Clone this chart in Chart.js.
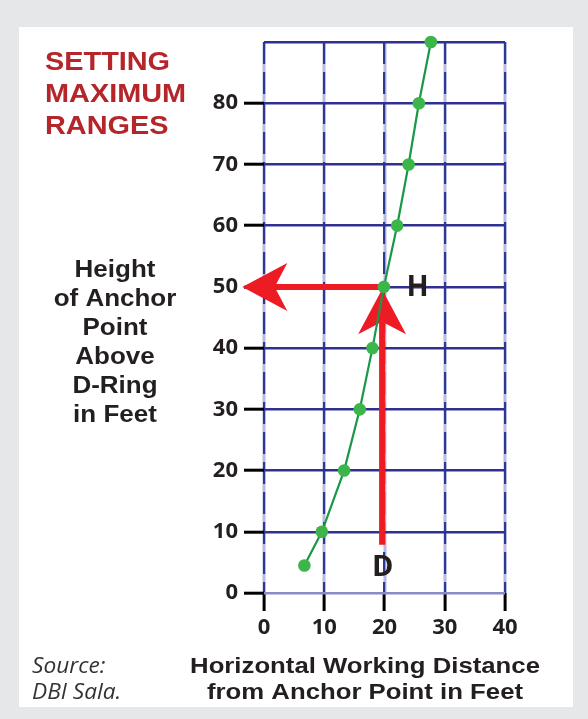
<!DOCTYPE html>
<html lang="en">
<head>
<meta charset="UTF-8">
<title>Setting Maximum Ranges</title>
<script src="https://cdn.jsdelivr.net/npm/chart.js"></script>
<style>
    html, body { margin: 0; padding: 0; background: #e6e7e8; }
    .panel { position: absolute; left: 19px; top: 27px; width: 554px; height: 680px; background: #fff; }
    .chart-container { position: absolute; left: 0; top: 0; width: 588px; height: 719px; }
</style>
</head>
<body>
<div class="panel"></div>
<div class="chart-container"><canvas id="rangeChart" width="588" height="719"></canvas></div>
<script>
    // values
    const distanceFeet = [6.7, 9.6, 13.3, 15.9, 18.0, 19.9, 22.1, 24.0, 25.7, 27.7];
    const heightFeet = [4.5, 10, 20, 30, 40, 50, 60, 70, 80, 90];
    const xTicks = [0, 10, 20, 30, 40];
    const yTicks = [0, 10, 20, 30, 40, 50, 60, 70, 80];
    const arrows = [
        {from: [19.5, 50], to: [-3.6, 50]},   // H -> height axis
        {from: [19.6, 7.9], to: [19.6, 49.6]} // D -> H
    ];
    const pointLabels = [
        {text: 'H', x: 25.5, y: 50},
        {text: 'D', x: 19.7, y: 4.3}
    ];
    const titleLines = ['SETTING', 'MAXIMUM', 'RANGES'];
    const yTitleLines = ['Height', 'of Anchor', 'Point', 'Above', 'D-Ring', 'in Feet'];
    const xTitleLines = ['Horizontal Working Distance', 'from Anchor Point in Feet'];
    const sourceLines = ['Source:', 'DBI Sala.'];

    const points = distanceFeet.map((d, i) => ({x: d, y: heightFeet[i]}));
    const DARK = '#231f20';

    function stretchedText(ctx, text, x, y, align, stretch) {
        ctx.save();
        ctx.translate(x, y);
        ctx.scale(stretch, 1);
        ctx.textAlign = align;
        ctx.fillText(text, 0, 0);
        ctx.restore();
    }

    const underlayPlugin = {
        id: 'underlay',
        beforeDraw(chart) {
            const {ctx, chartArea, scales} = chart;
            ctx.save();
            ctx.setLineDash([]);
            ctx.strokeStyle = '#b9badf';
            ctx.lineWidth = 3;
            xTicks.forEach(v => {
                const px = Math.round(scales.x.getPixelForValue(v));
                ctx.beginPath();
                ctx.moveTo(px, chartArea.top);
                ctx.lineTo(px, chartArea.bottom);
                ctx.stroke();
            });
            ctx.restore();
        }
    };

    const arrowPlugin = {
        id: 'arrows',
        beforeDatasetsDraw(chart) {
            const {ctx, scales} = chart;
            ctx.save();
            ctx.setLineDash([]);
            ctx.strokeStyle = '#ed1c24';
            ctx.fillStyle = '#ed1c24';
            ctx.lineWidth = 6;
            arrows.forEach(a => {
                const x1 = scales.x.getPixelForValue(a.from[0]);
                const y1 = scales.y.getPixelForValue(a.from[1]);
                const x2 = scales.x.getPixelForValue(a.to[0]);
                const y2 = scales.y.getPixelForValue(a.to[1]);
                const len = Math.hypot(x2 - x1, y2 - y1);
                const ux = (x2 - x1) / len, uy = (y2 - y1) / len;
                const headLen = 45, halfW = 24, notch = 0.72;
                ctx.beginPath();
                ctx.moveTo(x1, y1);
                ctx.lineTo(x2 - ux * headLen * notch, y2 - uy * headLen * notch);
                ctx.stroke();
                ctx.beginPath();
                ctx.moveTo(x2, y2);
                ctx.lineTo(x2 - ux * headLen - uy * halfW, y2 - uy * headLen + ux * halfW);
                ctx.lineTo(x2 - ux * headLen * notch, y2 - uy * headLen * notch);
                ctx.lineTo(x2 - ux * headLen + uy * halfW, y2 - uy * headLen - ux * halfW);
                ctx.closePath();
                ctx.fill();
            });
            ctx.restore();
        }
    };

    const textPlugin = {
        id: 'texts',
        afterDraw(chart) {
            const {ctx, scales} = chart;
            ctx.save();
            ctx.textBaseline = 'alphabetic';

            ctx.fillStyle = DARK;
            ctx.font = 'bold 29px "Open Sans"';
            pointLabels.forEach(l => {
                ctx.textAlign = 'center';
                ctx.textBaseline = 'middle';
                ctx.fillText(l.text, scales.x.getPixelForValue(l.x), scales.y.getPixelForValue(l.y) + 1);
            });
            ctx.textBaseline = 'alphabetic';

            ctx.fillStyle = '#b5262b';
            ctx.font = 'bold 26px "Liberation Sans"';
            titleLines.forEach((t, i) => stretchedText(ctx, t, 45, 69.5 + i * 32.3, 'left', 1.11));

            ctx.fillStyle = DARK;
            ctx.font = 'bold 23px "Liberation Sans"';
            yTitleLines.forEach((t, i) => stretchedText(ctx, t, 115, 277 + i * 28.9, 'center', 1.13));

            ctx.font = 'bold 22px "Liberation Sans"';
            xTitleLines.forEach((t, i) => stretchedText(ctx, t, 365, 673 + i * 26, 'center', 1.17));

            ctx.fillStyle = '#333';
            ctx.font = 'italic 21px "Open Sans"';
            sourceLines.forEach((t, i) => stretchedText(ctx, t, 32, 673 + i * 26, 'left', 1.08));
            ctx.restore();
        }
    };

    const tickFont = {family: '"Open Sans"', size: 22, weight: 'bold'};

    new Chart(document.getElementById('rangeChart'), {
        type: 'scatter',
        data: {
            datasets: [{
                data: points,
                showLine: true,
                borderColor: '#1a9748',
                borderWidth: 2.2,
                pointRadius: 6.3,
                pointBackgroundColor: '#3cb54a',
                pointBorderWidth: 0,
                clip: false
            }, {
                data: points,
                showLine: false,
                pointRadius: 1.3,
                pointBackgroundColor: '#ed1c24',
                pointBorderWidth: 0,
                clip: false
            }]
        },
        options: {
            responsive: false,
            animation: false,
            devicePixelRatio: 1,
            layout: {padding: {left: 0, right: 83, top: 42, bottom: 0}},
            plugins: {legend: {display: false}, tooltip: {enabled: false}},
            scales: {
                x: {
                    type: 'linear',
                    min: 0,
                    max: 40,
                    afterFit: s => { s.height = 126; },
                    afterBuildTicks: s => { s.ticks = xTicks.map(v => ({value: v})); },
                    ticks: {font: tickFont, color: DARK, padding: 4},
                    grid: {
                        color: '#2b3990',
                        lineWidth: 2.2,
                        tickColor: '#000',
                        tickWidth: 3,
                        tickLength: 18
                    },
                    border: {display: false, dash: [22, 8]}
                },
                y: {
                    min: 0,
                    max: 90,
                    afterFit: s => { s.width = 264; },
                    afterBuildTicks: s => { s.ticks = yTicks.concat([90]).map(v => ({value: v})); },
                    ticks: {
                        font: tickFont,
                        color: DARK,
                        padding: 6,
                        callback: v => yTicks.includes(v) ? v : ''
                    },
                    grid: {
                        color: c => c.tick && c.tick.value === 0 ? '#8a8cc8' : '#2e3192',
                        lineWidth: 2.4,
                        tickColor: c => c.tick && c.tick.value === 90 ? 'rgba(0,0,0,0)' : '#000',
                        tickWidth: 3,
                        tickLength: 20
                    },
                    border: {display: false}
                }
            }
        },
        plugins: [underlayPlugin, arrowPlugin, textPlugin]
    });
</script>
</body>
</html>
